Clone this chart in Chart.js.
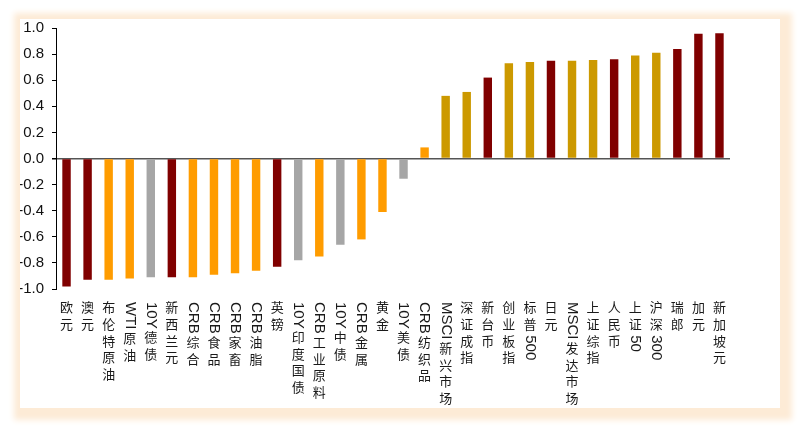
<!DOCTYPE html>
<html>
<head>
<meta charset="utf-8">
<script src="https://cdn.jsdelivr.net/npm/chart.js@4/dist/chart.umd.min.js"></script>
<style>
  html, body { margin: 0; padding: 0; background: #fff; }
  #wrap { position: relative; width: 806px; height: 432px; overflow: hidden; }
  #panel {
    position: absolute; left: 20px; top: 19px; width: 760px; height: 389px;
    background: #fff;
    box-shadow: 3px 3px 6px 9px #fdebd6;
  }
  #chartCorr { position: absolute; left: 0; top: 0; }
</style>
</head>
<body>
<div id="wrap">
  <div id="panel"></div>
  <canvas id="chartCorr" width="806" height="432"></canvas>
</div>
<script>
// 资产名称
const categorias = ['欧元', '澳元', '布伦特原油', 'WTI原油', '10Y德债', '新西兰元', 'CRB综合', 'CRB食品',
  'CRB家畜', 'CRB油脂', '英镑', '10Y印度国债', 'CRB工业原料', '10Y中债', 'CRB金属', '黄金', '10Y美债',
  'CRB纺织品', 'MSCI新兴市场', '深证成指', '新台币', '创业板指', '标普500', '日元', 'MSCI发达市场',
  '上证综指', '人民币', '上证50', '沪深300', '瑞郎', '加元', '新加坡元']

// 相关系数
const valores = [-0.98, -0.93, -0.93, -0.92, -0.91, -0.91, -0.91, -0.89,
  -0.88, -0.86, -0.83, -0.78, -0.75, -0.66, -0.62, -0.41, -0.155,
  0.085, 0.48, 0.51, 0.62, 0.73, 0.74, 0.75, 0.75,
  0.755, 0.76, 0.79, 0.81, 0.84, 0.955, 0.96]

// 资产类别
const tipos = ['汇率', '汇率', '商品', '商品', '债券', '汇率', '商品', '商品',
  '商品', '商品', '汇率', '债券', '商品', '债券', '商品', '商品', '债券',
  '商品', '股指', '股指', '汇率', '股指', '股指', '汇率', '股指',
  '股指', '汇率', '股指', '股指', '汇率', '汇率', '汇率']

const ticksY = [-1.0, -0.8, -0.6, -0.4, -0.2, 0.0, 0.2, 0.4, 0.6, 0.8, 1.0]

const colores = { '汇率': '#800000', '商品': '#ff9c00', '债券': '#a6a6a6', '股指': '#cc9900' }

const latinFont = "15px 'Liberation Sans Narrow', 'Liberation Sans', Arial, sans-serif"
const cjkFont = "13px 'Noto Sans CJK SC', sans-serif"

// etiquetas verticales: caracteres chinos de pie, texto latino girado
const etiquetasVerticales = {
  id: 'etiquetasVerticales',
  afterDraw(chart) {
    const ctx = chart.ctx
    const xScale = chart.scales.x
    ctx.save()
    ctx.fillStyle = '#1a1a1a'
    chart.data.labels.forEach((label, i) => {
      const x = xScale.getPixelForValue(i)
      let y = 302
      const partes = label.match(/[\x00-\x7F]+|[^\x00-\x7F]/g) || []
      partes.forEach(p => {
        if (/^[\x00-\x7F]+$/.test(p)) {
          ctx.font = latinFont
          const w = ctx.measureText(p).width
          ctx.save()
          ctx.translate(x, y)
          ctx.rotate(Math.PI / 2)
          ctx.textAlign = 'left'
          ctx.textBaseline = 'middle'
          ctx.fillText(p, 0, 0)
          ctx.restore()
          y += w + 3
        } else {
          ctx.font = cjkFont
          ctx.textAlign = 'center'
          ctx.textBaseline = 'top'
          ctx.fillText(p, x, y - 1)
          y += 16.6
        }
      })
    })
    ctx.restore()
  }
}

const canvas = document.getElementById('chartCorr')
const context = canvas.getContext('2d')

const chartCorr = new Chart(context, {
  type: 'bar',
  data: {
    labels: categorias,
    datasets: [
      {
        label: '相关系数',
        data: valores,
        backgroundColor: tipos.map(t => colores[t]),
        categoryPercentage: 1,
        barPercentage: 0.4
      }
    ]
  },
  options: {
    responsive: false,
    animation: false,
    layout: { padding: { left: 20, right: 76, top: 28, bottom: 143 } },
    plugins: {
      legend: { display: false },
      tooltip: { enabled: false }
    },
    scales: {
      x: {
        grid: { display: false },
        border: { display: false },
        ticks: { display: false },
        afterFit: s => { s.height = 0 }
      },
      y: {
        min: -1,
        max: 1,
        afterFit: s => { s.width = 36 },
        afterBuildTicks: s => { s.ticks = ticksY.map(v => ({ value: v })) },
        border: { display: true, color: '#000', width: 1 },
        grid: {
          drawOnChartArea: true,
          drawTicks: true,
          tickLength: 4,
          tickColor: '#000',
          color: c => (c.tick && Math.abs(c.tick.value) < 1e-9) ? '#555' : 'rgba(0,0,0,0)',
          lineWidth: c => (c.tick && Math.abs(c.tick.value) < 1e-9) ? 1.5 : 1
        },
        ticks: {
          padding: 8,
          color: '#111',
          font: { family: "'Liberation Sans Narrow', 'Liberation Sans', Arial, sans-serif", size: 15 },
          callback: v => Math.abs(v) < 1e-9 ? '0.0' : Number(v).toFixed(1)
        }
      }
    }
  },
  plugins: [etiquetasVerticales]
})
</script>
</body>
</html>
